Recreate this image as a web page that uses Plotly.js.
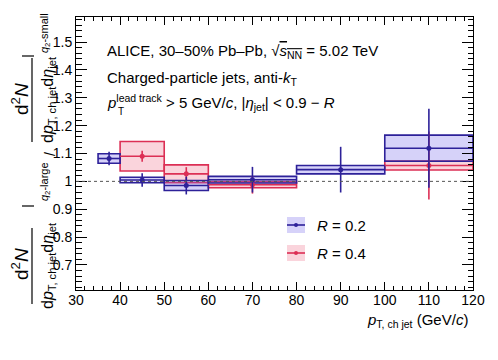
<!DOCTYPE html>
<html>
<head>
<meta charset="utf-8">
<script src="https://cdn.plot.ly/plotly-3.0.1.min.js"></script>
<style>
  html, body { margin: 0; padding: 0; background: #fff; }
  #chart { width: 498px; height: 360px; }
</style>
</head>
<body>
<div id="chart"></div>
<script>
// bins and ratios
var binLo02 = [35, 40, 50, 60, 80, 100];
var binHi02 = [40, 50, 60, 80, 100, 120];
var ratio02 = [1.082, 1.005, 0.985, 1.006, 1.042, 1.119];
var stat02 = [0.024, 0.024, 0.032, 0.046, 0.082, 0.142];
var sys02 = [0.017, 0.010, 0.018, 0.012, 0.015, 0.047];

var binLo04 = [40, 50, 60, 100];
var binHi04 = [50, 60, 80, 120];
var ratio04 = [1.090, 1.027, 0.988, 1.057];
var stat04 = [0.020, 0.024, 0.032, 0.122];
var sys04 = [0.053, 0.032, 0.011, 0.016];

var xTicks = [30, 40, 50, 60, 70, 80, 90, 100, 110, 120];

var blueLine = '#2d2199';
var blueFill = 'rgba(120,105,235,0.30)';
var redLine = '#dc2f55';
var redFill = 'rgba(235,90,120,0.26)';
var font = 'Liberation Sans, Arial, sans-serif';

// plot frame in pixels
var L = 76, R = 473, T = 17, B = 290;
function px(x) { return (x - L) / (R - L); }
function py(y) { return (B - y) / (B - T); }

function _map(a, f) { var out = []; for (var i = 0; i < a.length; i++) out.push(f(a[i], i)); return out; }
function centers(lo, hi) { return _map(lo, function(v, i) { return (v + hi[i]) / 2; }); }
function halfw(lo, hi) { return _map(lo, function(v, i) { return (hi[i] - v) / 2; }); }

function boxTrace(lo, hi, val, sys, fill, line) {
    return {
        type: 'bar',
        x: centers(lo, hi),
        width: _map(lo, function(v, i) { return hi[i] - v; }),
        base: _map(val, function(v, i) { return v - sys[i]; }),
        y: _map(sys, function(s) { return 2 * s; }),
        marker: { color: fill, line: { color: line, width: 1.6 } },
        hoverinfo: 'skip',
        showlegend: false
    };
}

function pointTrace(lo, hi, val, stat, color) {
    return {
        type: 'scatter',
        mode: 'markers',
        x: centers(lo, hi),
        y: val,
        marker: { color: color, size: 5 },
        error_y: { type: 'data', array: stat, width: 0, thickness: 1.6, color: color },
        error_x: { type: 'data', array: halfw(lo, hi), width: 0, thickness: 1.6, color: color },
        showlegend: false
    };
}

var data = [
    boxTrace(binLo04, binHi04, ratio04, sys04, redFill, redLine),
    boxTrace(binLo02, binHi02, ratio02, sys02, blueFill, blueLine),
    pointTrace(binLo04, binHi04, ratio04, stat04, redLine),
    pointTrace(binLo02, binHi02, ratio02, stat02, blueLine)
];

function note(text, x, y, opts) {
    var a = {
        text: text, xref: 'paper', yref: 'paper', x: px(x), y: py(y),
        showarrow: false, xanchor: 'left', yanchor: 'middle',
        font: { family: font, size: 15, color: '#000' }
    };
    for (var k in opts) a[k] = opts[k];
    return a;
}
function rot(text, x, y, size) {
    return note(text, x, y, { xanchor: 'center', textangle: -90, font: { family: font, size: size, color: '#000' } });
}

var numer = 'd<sup>2</sup><i>N</i>';
var denom = 'd<i>p</i><sub>T, ch jet</sub>d<i>η</i><sub>jet</sub>';

var annotations = [
    note('ALICE, 30–50% Pb–Pb, √<span style="text-decoration:overline"><i>s</i><sub>NN</sub></span> = 5.02 TeV', 105, 51),
    note('Charged-particle jets, anti-<i>k</i><sub>T</sub>', 105, 78),
    note('<i>p</i><sup>lead track</sup> &gt; 5 GeV/<i>c</i>, |<i>η</i><sub>jet</sub>| &lt; 0.9 − <i>R</i>', 105, 102),
    note('T', 116, 111, { font: { family: font, size: 10, color: '#000' } }),
    note('<i>p</i><sub>T, ch jet</sub> (GeV/<i>c</i>)', 470, 320, { xanchor: 'right' }),
    note('<i>R</i> = 0.2', 315, 225),
    note('<i>R</i> = 0.4', 315, 253),
    // y title, rotated
    rot(numer, 20, 264, 19),
    rot(denom, 48, 266, 16),
    rot('<i>q</i><sub>2</sub>-large', 45, 182, 11),
    rot('/', 50, 154, 14),
    rot(numer, 20, 99, 19),
    rot(denom, 48, 100, 16),
    rot('<i>q</i><sub>2</sub>-small', 45, 33, 11)
];

function pline(x0, y0, x1, y1, color, w) {
    return { type: 'line', xref: 'paper', yref: 'paper', x0: px(x0), y0: py(y0), x1: px(x1), y1: py(y1),
             line: { color: color, width: w } };
}
function swatch(yc, fill, line) {
    return [
        { type: 'rect', xref: 'paper', yref: 'paper', x0: px(287), x1: px(305), y0: py(yc - 8), y1: py(yc + 8),
          fillcolor: fill, line: { width: 0 } },
        pline(287, yc, 305, yc, line, 1.6),
        { type: 'circle', xref: 'paper', yref: 'paper', x0: px(294), x1: px(298), y0: py(yc - 2), y1: py(yc + 2),
          fillcolor: line, line: { width: 0 } }
    ];
}

var shapes = [
    { type: 'line', xref: 'paper', yref: 'y', x0: 0, x1: 1, y0: 1, y1: 1,
      line: { color: '#555', width: 1, dash: '3px,3px' } },
    // fraction bars and evaluation bars of the y title
    pline(32, 228, 32, 304, '#000', 1.2),
    pline(32, 58, 32, 142, '#000', 1.2),
    pline(22, 206, 34, 206, '#000', 1.2),
    pline(22, 56, 34, 56, '#000', 1.2)
].concat(swatch(225, blueFill, blueLine), swatch(253, redFill, redLine));

var layout = {
    width: 498,
    height: 360,
    margin: { l: L, r: 498 - R, t: T, b: 360 - B },
    paper_bgcolor: '#fff',
    plot_bgcolor: '#fff',
    barmode: 'overlay',
    showlegend: false,
    font: { family: font, size: 14, color: '#000' },
    xaxis: {
        range: [30, 120],
        tickvals: xTicks,
        ticks: 'inside', ticklen: 8, tickwidth: 1, tickcolor: '#000',
        ticklabelstandoff: -3,
        minor: { dtick: 2, ticks: 'inside', ticklen: 4, tickcolor: '#000', showgrid: false },
        showline: true, linecolor: '#000', linewidth: 1, mirror: 'allticks',
        showgrid: false, zeroline: false,
        tickfont: { family: font, size: 14 }
    },
    yaxis: {
        range: [0.61, 1.59],
        dtick: 0.1, tick0: 0,
        ticks: 'inside', ticklen: 11, tickwidth: 1, tickcolor: '#000',
        minor: { dtick: 0.02, ticks: 'inside', ticklen: 5.5, tickcolor: '#000', showgrid: false },
        showline: true, linecolor: '#000', linewidth: 1, mirror: 'allticks',
        showgrid: false, zeroline: false,
        tickfont: { family: font, size: 14 }
    },
    annotations: annotations,
    shapes: shapes
};

Plotly.newPlot('chart', data, layout, { staticPlot: true });
</script>
</body>
</html>
